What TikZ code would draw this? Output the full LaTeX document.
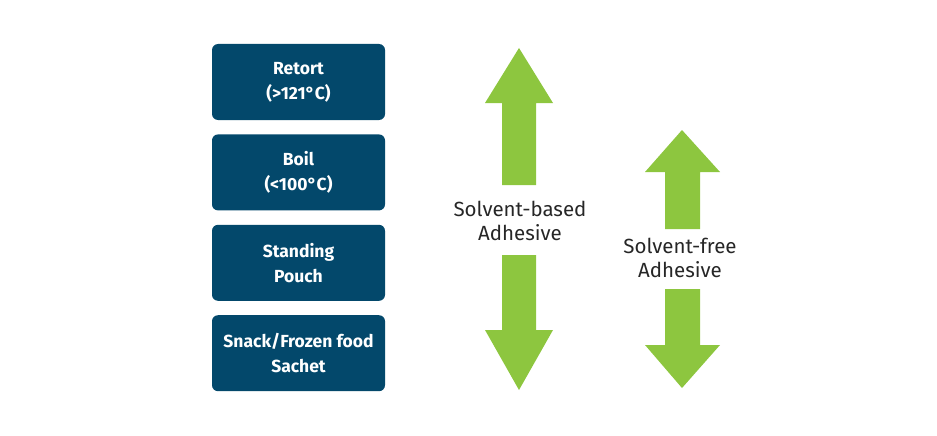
\documentclass[tikz,border=0pt]{standalone}
\usepackage{fontspec}
\setmainfont{Fira Sans}
\usetikzlibrary{positioning}
\definecolor{boxblue}{HTML}{03486B}
\definecolor{arrowgreen}{HTML}{8DC63F}
\tikzset{
  usebox/.style={fill=boxblue,rounded corners=6pt,minimum width=173pt,minimum height=76pt,
    text=white,align=center,font=\fontsize{17.5}{25}\selectfont\bfseries},
  adhlabel/.style={align=center,font=\fontsize{20.5}{24}\selectfont,text=black!85},
  greenarrow/.style={fill=arrowgreen}
}
\begin{document}
\begin{tikzpicture}[x=1pt,y=-1pt]
	\useasboundingbox (0,0) rectangle (937,436);
	
	% usage boxes
	\node[usebox] (retort) at (298.5,82) {Retort\\(>121°C)};
	\node[usebox,below=14pt of retort] (boil) {Boil\\(<100°C)};
	\node[usebox,below=14pt of boil] (pouch) {Standing\\Pouch};
	\node[usebox,below=14pt of pouch] (snack) {Snack/Frozen food\\Sachet};
	
	% labels
	\node[adhlabel] (based) at (520,221) {Solvent-based\\Adhesive};
	\node[adhlabel] (free) at (680,258) {Solvent-free\\Adhesive};
	
	% solvent-based arrows
	\fill[greenarrow] (519,48) -- (553,103) -- (536,103) -- (536,185) -- (502,185) -- (502,103) -- (485,103) -- cycle;
	\fill[greenarrow] (519,390) -- (553,330) -- (536,330) -- (536,255) -- (502,255) -- (502,330) -- (485,330) -- cycle;
	
	% solvent-free arrows
	\fill[greenarrow] (682,130) -- (720,172) -- (700,172) -- (700,229) -- (665,229) -- (665,172) -- (645,172) -- cycle;
	\fill[greenarrow] (682,388) -- (720,345) -- (700,345) -- (700,289) -- (665,289) -- (665,345) -- (645,345) -- cycle;
\end{tikzpicture}
\end{document}
